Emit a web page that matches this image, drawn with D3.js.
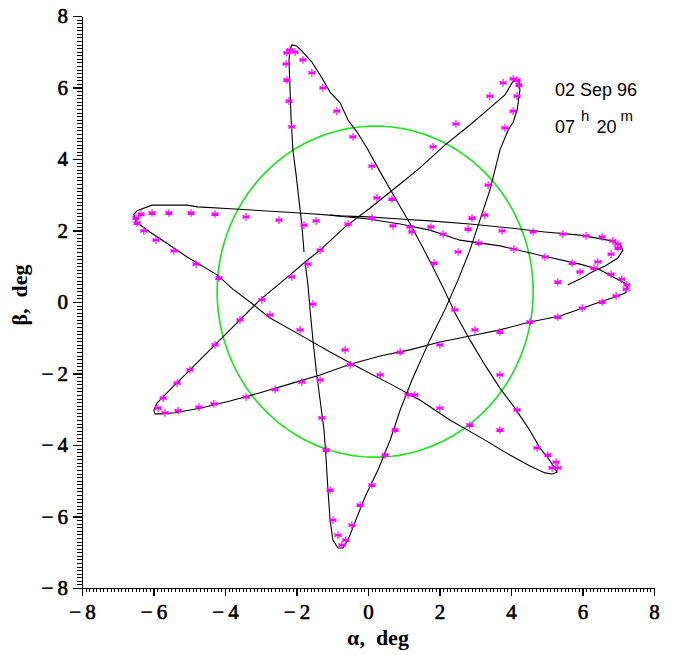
<!DOCTYPE html>
<html><head><meta charset="utf-8">
<script src="https://cdn.jsdelivr.net/npm/d3@7"></script>
<style>body{margin:0;background:#fff}svg{display:block}</style>
</head><body>
<svg id="chart" width="696" height="655"></svg>
<script>
// ---- data (degrees) ----
const xTicks = [-8, -6, -4, -2, 0, 2, 4, 6, 8];
const yTicks = [-8, -6, -4, -2, 0, 2, 4, 6, 8];
const xLabel = "α,  deg";
const yLabel = "β,  deg";
const dateLabel = "02 Sep 96";
const timeHours = "07", timeMinutes = "20";

// reference circle (centre and semi-axes, deg)
const circleCentre = [0.2, 0.29];
const circleRadii = [4.42, 4.63];

// measured trajectory, first part
const trackA = [
 [-1.79,1.40],[-1.85,2.15],[-1.93,2.85],[-2.01,3.55],[-2.10,4.25],[-2.15,5.09],[-2.18,5.93],[-2.21,6.77],
 [-2.18,7.05],[-2.13,7.19],[-1.99,7.16],[-1.82,6.99],[-1.57,6.71],[-1.34,6.35],[-1.06,5.87],[-0.78,5.57],
 [-0.56,5.09],[-0.31,4.76],[-0.03,4.31],[0.34,3.64],[0.76,2.91],[1.15,2.24],[1.45,1.68],[1.79,1.03],
 [2.13,0.34],[2.46,-0.36],[2.85,-1.06],[3.27,-1.76],[3.69,-2.41],[4.11,-2.97],[4.48,-3.52],[4.81,-4.08],
 [5.03,-4.36],[5.17,-4.56],[5.29,-4.76],[5.15,-4.81],[4.95,-4.78],[4.53,-4.59],[3.97,-4.28],[3.13,-3.78],
 [2.29,-3.30],[1.45,-2.74],[0.62,-2.29],[-0.22,-1.85],[-1.06,-1.40],[-1.90,-0.92],[-2.74,-0.45],[-3.30,0.0],
 [-3.78,0.36],[-4.22,0.76],[-5.06,1.26],[-5.68,1.68],[-6.10,1.96],[-6.49,2.24],[-6.55,2.46],[-6.46,2.55],
 [-6.04,2.71],[-5.06,2.71],[-4.76,2.66],[-3.72,2.60],[-1.90,2.49],[-0.78,2.41],[0.0,2.38],[0.90,2.32],
 [1.73,2.27],[2.85,2.18],[3.97,2.07],[4.95,1.96],[5.93,1.87],[6.71,1.73],[7.05,1.62],[7.13,1.45],
 [6.99,1.23],[6.63,1.01],[6.27,0.84],[5.93,0.64],[5.59,0.48]
];
// measured trajectory, second part
const trackB = [
 [-1.06,2.43],[0.0,2.32],[0.90,2.18],[1.73,2.01],[2.57,1.73],[3.69,1.57],[4.81,1.31],[5.93,1.06],
 [6.49,0.90],[6.91,0.67],[7.19,0.53],[7.27,0.39],[7.19,0.25],[6.91,0.14],[6.49,0.0],[6.01,-0.17],
 [5.37,-0.39],[4.53,-0.56],[3.69,-0.78],[2.85,-0.95],[2.01,-1.12],[1.17,-1.34],[0.34,-1.51],[-0.50,-1.74],
 [-1.34,-2.04],[-2.18,-2.29],[-3.02,-2.54],[-3.86,-2.77],[-4.70,-2.97],[-5.40,-3.10],[-5.82,-3.13],[-5.96,-3.13],
 [-5.99,-3.02],[-5.90,-2.83],[-5.68,-2.60],[-5.40,-2.32],[-4.98,-1.90],[-4.42,-1.34],[-3.86,-0.78],[-3.02,0.06],
 [-2.18,0.76],[-1.76,1.12],[-1.34,1.45],[-0.64,2.10],[0.06,2.63],[0.76,3.19],[1.45,3.75],[2.15,4.39],
 [2.85,4.95],[3.41,5.43],[3.83,5.79],[4.03,6.13],[4.11,6.24],[4.22,6.21],[4.25,5.93],[4.17,5.37],
 [4.06,5.03],[3.92,4.81],[3.69,4.25],[3.41,3.13],[3.13,2.29],[2.85,1.45],[2.52,0.62],[2.15,-0.22],
 [1.73,-1.06],[1.23,-2.18],[0.90,-3.02],[0.62,-3.86],[0.28,-4.70],[-0.06,-5.40],[-0.34,-6.10],[-0.56,-6.66],
 [-0.70,-6.88],[-0.84,-6.88],[-0.98,-6.66],[-1.06,-6.10],[-1.12,-5.26],[-1.17,-4.42],[-1.23,-3.58],[-1.34,-2.74],
 [-1.45,-1.90],[-1.54,-1.06],[-1.62,-0.22],[-1.68,0.48],[-1.76,1.12]
];
// magenta measurement points
const points = [
 [-2.27,6.97],[-2.18,7.05],[-2.04,6.99],[-1.82,6.77],[-1.57,6.41],[-1.26,5.99],[-0.87,5.34],[-0.42,4.62],
 [-2.29,6.66],[-2.27,6.21],[-2.21,5.62],[-2.13,4.90],[0.11,3.80],
 [-6.35,2.46],[-6.04,2.49],[-5.57,2.49],[-4.95,2.49],[-4.28,2.46],[-3.41,2.38],[-2.49,2.29],[-1.79,2.15],
 [-1.45,2.27],[-0.56,2.18],
 [-6.49,2.35],[-6.46,2.21],[-6.27,1.99],[-5.93,1.73],[-5.43,1.43],[-4.81,1.06],[-4.17,0.67],
 [0.25,2.91],[0.67,2.88],[0.11,2.35],[0.70,2.13],[1.17,2.10],[1.23,1.96],[1.76,2.10],[2.10,1.90],
 [2.91,2.35],[2.80,2.04],[3.10,1.65],[2.52,1.40],[3.75,1.99],[4.08,1.48],[4.62,1.96],[4.95,1.26],[1.85,1.09],
 [5.45,1.90],[6.10,1.85],[6.55,1.82],[6.85,1.71],[6.99,1.62],[6.99,1.51],[6.80,1.34],[5.71,1.09],
 [6.43,1.12],[5.93,0.84],[6.32,0.95],[6.80,0.78],[7.10,0.64],[7.24,0.48],[7.22,0.36],[6.94,0.17],
 [6.55,0.0],[5.99,-0.17],[5.31,-0.42],[5.31,0.56],
 [3.78,6.13],[4.06,6.24],[4.17,6.21],[4.22,6.07],[4.17,5.76],[4.06,5.34],[3.83,4.87],
 [-1.34,1.45],[-1.68,1.06],[-2.13,0.70],[-1.54,-0.06],
 [3.41,5.76],[2.46,4.98],[1.82,4.34],[3.36,3.27],[3.27,2.43],
 [-2.97,0.06],[-3.58,-0.50],[-4.28,-1.20],[-4.98,-1.90],[-5.34,-2.27],[-5.73,-2.69],[-5.87,-2.97],
 [-5.68,-3.10],[-5.31,-3.04],[-4.73,-2.94],[-4.31,-2.85],[-3.41,-2.66],[-2.60,-2.45],[-1.85,-2.24],
 [-0.50,-1.76],[0.90,-1.40],[2.01,-1.20],[3.69,-0.84],[4.53,-0.56],
 [4.73,-4.08],[5.03,-4.28],[5.26,-4.48],[5.31,-4.64],[5.15,-4.64],
 [3.69,-2.04],[4.17,-3.02],[2.99,-0.78],[2.43,-0.22],
 [3.69,-3.58],[2.85,-3.44],[2.01,-2.97],[1.31,-2.60],[0.34,-2.04],[-0.64,-1.34],[-1.90,-0.78],[-2.74,-0.36],
 [-1.17,-4.14],[-1.06,-5.26],[-0.98,-6.10],[-0.84,-6.52],[-0.73,-6.80],[-0.62,-6.66],[-0.45,-6.24],[-0.22,-5.68],
 [0.11,-5.12],[0.48,-4.28],[0.76,-3.58],[1.12,-2.60],
 [-1.34,-2.18],[-1.29,-3.24]
];

// ---- drawing ----
const svg = d3.select("#chart");
const x = d3.scaleLinear().domain([-8, 8]).range([82, 654]);
const y = d3.scaleLinear().domain([-8, 8]).range([588, 16]);
const serif = "'Liberation Serif','DejaVu Serif',serif";
const sans = "'Liberation Sans',Arial,sans-serif";
const fmt = d => d < 0 ? "\u2212\u2009" + Math.abs(d) : String(d);
const minor = d3.range(-80, 81).map(v => v / 10);

// minor ticks
svg.append("g").attr("transform", `translate(0,${y(-8)})`)
  .call(d3.axisBottom(x).tickValues(minor).tickSize(4).tickSizeOuter(0).tickFormat(""))
  .call(g => g.select(".domain").remove());
svg.append("g").attr("transform", `translate(${x(-8)},0)`)
  .call(d3.axisLeft(y).tickValues(minor).tickSize(5).tickSizeOuter(0).tickFormat(""))
  .call(g => g.select(".domain").remove());
// major ticks + labels
const gx = svg.append("g").attr("transform", `translate(0,${y(-8)})`)
  .call(d3.axisBottom(x).tickValues(xTicks).tickSize(8).tickSizeOuter(0).tickPadding(8).tickFormat(fmt));
const gy = svg.append("g").attr("transform", `translate(${x(-8)},0)`)
  .call(d3.axisLeft(y).tickValues(yTicks).tickSize(9).tickSizeOuter(0).tickPadding(5).tickFormat(fmt));
[gx, gy].forEach(g => {
  g.selectAll("text").attr("font-family", serif).attr("font-size", 21).attr("fill", "#000")
    .attr("stroke", "#000").attr("stroke-width", 0.6);
  g.selectAll("line,path").attr("stroke", "#000").attr("stroke-width", 1.2);
});
svg.selectAll("g").attr("shape-rendering", "crispEdges");

// circle
const ang = d3.range(0, 361, 2).map(a => a * Math.PI / 180);
svg.append("path")
  .attr("d", d3.line()(ang.map(a => [x(circleCentre[0] + circleRadii[0] * Math.cos(a)), y(circleCentre[1] + circleRadii[1] * Math.sin(a))])))
  .attr("fill", "none").attr("stroke", "#1ee61e").attr("stroke-width", 1.7);

// trajectory
const line = d3.line().x(d => x(d[0])).y(d => y(d[1]));
[trackA, trackB].forEach(t => svg.append("path").attr("d", line(t))
  .attr("fill", "none").attr("stroke", "#000").attr("stroke-width", 1.1));

// markers (6-arm asterisk)
const star = "M0,-3.8V3.8M-3.5,-1.6L3.5,1.6M-3.5,1.6L3.5,-1.6M-3.5,0H3.5";
svg.append("g").selectAll("path").data(points).join("path")
  .attr("transform", d => `translate(${x(d[0])},${y(d[1])})`)
  .attr("d", star).attr("stroke", "#ff00ff").attr("stroke-width", 1.2).attr("fill", "none");

// axis titles
svg.append("text").attr("x", 378).attr("y", 645).attr("text-anchor", "middle")
  .attr("font-family", serif).attr("font-size", 22).attr("font-weight", "bold")
  .attr("xml:space", "preserve").text(xLabel);
svg.append("text").attr("transform", "translate(27,295) rotate(-90)").attr("text-anchor", "middle")
  .attr("font-family", serif).attr("font-size", 22).attr("font-weight", "bold")
  .attr("xml:space", "preserve").text(yLabel);

// annotation
svg.append("text").attr("x", 555).attr("y", 96).attr("font-family", sans).attr("font-size", 18).text(dateLabel);
const t2 = svg.append("text").attr("x", 555).attr("y", 133).attr("font-family", sans).attr("font-size", 18);
t2.append("tspan").text(timeHours);
t2.append("tspan").attr("dx", 6).attr("dy", -12).attr("font-size", 15).text("h");
t2.append("tspan").attr("dx", 7).attr("dy", 12).text(timeMinutes);
t2.append("tspan").attr("dx", 4).attr("dy", -12).attr("font-size", 15).text("m");
</script>
</body></html>
